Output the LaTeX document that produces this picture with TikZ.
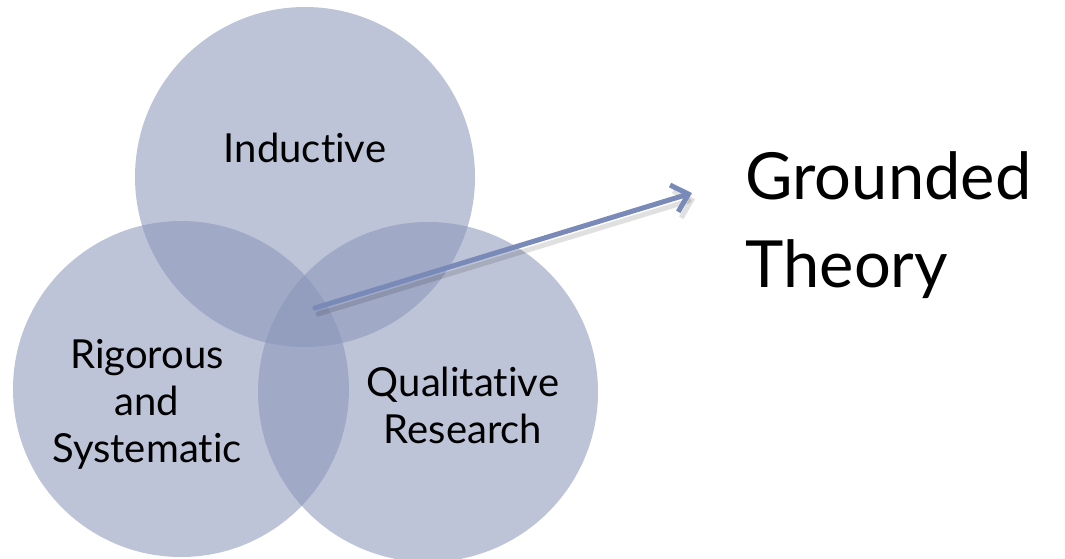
\documentclass[tikz,border=0pt]{standalone}
\usepackage{fontspec}
\setmainfont{Lato}[Ligatures={NoCommon,NoRare}]
\usetikzlibrary{arrows.meta}

\definecolor{vennblue}{RGB}{135,146,183}
\definecolor{arrowblue}{RGB}{122,138,184}

\begin{document}
\begin{tikzpicture}[x=1pt, y=-1pt,
	venn/.style={circle, fill=vennblue, fill opacity=0.54, minimum size=#1, inner sep=0pt},
	lbl/.style={align=center, font=\fontsize{40}{47}\selectfont, text=black},
	big/.style={align=left, font=\fontsize{65}{88}\selectfont, text=black}]
	\useasboundingbox (0,0) rectangle (1065,558);

	% Circles {ind, rig, qual}
	\node [venn=340pt] 	(ind) 	at (305,177) 	{};
	\node [venn=336pt] 	(rig) 	at (181,389) 	{};
	\node [venn=340pt] 	(qual) 	at (428,392) 	{};

	% Labels
	\node [lbl] 	(tind) 	at (305,148) 	{Inductive};
	\node [lbl] 	(trig) 	at (147,404) 	{Rigorous\\and\\Systematic};
	\node [lbl] 	(tqual) at (463,405) 	{Qualitative\\Research};
	\node [big, anchor=west] 	(gt) 	at (742,225) 	{Grounded\\Theory};

	% Arrow
	\coordinate (start) at (315,308);
	\coordinate (tip) 	at (692,193);
	\draw [black, opacity=0.12, line width=5pt, line cap=round,
		-{Straight Barb[length=15pt, width=28pt, line width=5pt]}]
		([shift={(3,6)}]start) -- ([shift={(3,6)}]tip);
	\draw [arrowblue, line width=5pt, line cap=round,
		-{Straight Barb[length=15pt, width=28pt, line width=5pt]}] (start) -- (tip);

\end{tikzpicture}
\end{document}
